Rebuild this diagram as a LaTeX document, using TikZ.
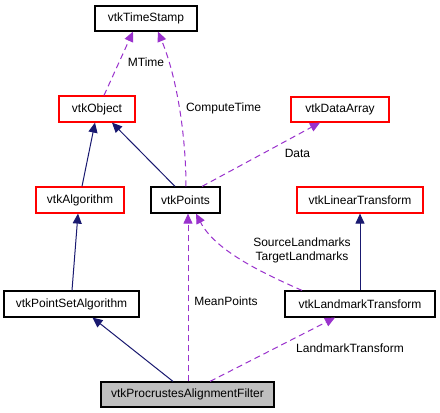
\documentclass[tikz,border=0pt]{standalone}
\usepackage{fontspec}
\setmainfont{Liberation Sans}
\usetikzlibrary{arrows.meta}
\definecolor{edgepurple}{HTML}{9A32CD}
\definecolor{edgenavy}{HTML}{191970}
\definecolor{boxred}{HTML}{FF0000}
\definecolor{boxgray}{HTML}{BFBFBF}
\tikzset{
  cls/.style={draw=black, line width=1.2pt, fill=white, inner sep=0pt, font=\fontsize{12}{14}\selectfont},
  redcls/.style={cls, draw=boxred},
  graycls/.style={cls, fill=boxgray},
  inherit/.style={draw=edgenavy, line width=1pt, -{Triangle[length=10pt,width=9pt]}, color=edgenavy},
  usage/.style={draw=edgepurple, line width=1pt, dash pattern=on 6pt off 4pt, -{Triangle[length=10pt,width=9pt]}, color=edgepurple},
  lbl/.style={font=\fontsize{12}{14}\selectfont, inner sep=0pt, align=center}
}
\begin{document}
\begin{tikzpicture}[x=1pt,y=-1pt]
\useasboundingbox[fill=white] (0,0) rectangle (440,413);
% nodes
\node[cls, minimum width=102pt, minimum height=25pt] (ts) at (146,18.5) {vtkTimeStamp};
\node[redcls, minimum width=76pt, minimum height=26pt] (obj) at (97,109) {vtkObject};
\node[redcls, minimum width=98pt, minimum height=25pt] (da) at (340,109.5) {vtkDataArray};
\node[redcls, minimum width=88pt, minimum height=26pt] (alg) at (80,200) {vtkAlgorithm};
\node[cls, minimum width=69pt, minimum height=26pt] (pts) at (185.5,200) {vtkPoints};
\node[redcls, minimum width=126pt, minimum height=26pt] (lt) at (360,200) {vtkLinearTransform};
\node[cls, minimum width=135pt, minimum height=26pt] (psa) at (71.5,304) {vtkPointSetAlgorithm};
\node[cls, minimum width=150pt, minimum height=26pt] (lm) at (360,304) {vtkLandmarkTransform};
\node[graycls, minimum width=173pt, minimum height=25pt] (pf) at (187.5,394.5) {vtkProcrustesAlignmentFilter};
% inheritance edges
\draw[inherit] ([xshift=2pt]alg.north) -- ([xshift=-2pt]obj.south);
\draw[inherit] ([xshift=-10.5pt]pts.north) -- ([xshift=15pt]obj.south);
\draw[inherit] ([xshift=0.5pt]psa.north) -- ([xshift=-2pt]alg.south);
\draw[inherit] ([xshift=-14.5pt]pf.north) -- ([xshift=21pt]psa.south);
\draw[inherit] (lm.north) -- (lt.south);
% usage edges
\draw[usage] ([xshift=7pt]obj.north) -- ([xshift=-13pt]ts.south);
\node[lbl] (lmtime) at (146,62) {MTime};
\draw[usage] ([xshift=0.5pt]pts.north) .. controls (186,140) and (178,80) .. ([xshift=12pt]ts.south);
\node[lbl] (lct) at (223.5,108) {ComputeTime};
\draw[usage] ([xshift=16.5pt]pts.north) -- ([xshift=-20pt]da.south);
\node[lbl] (ldata) at (297.5,153) {Data};
\draw[usage] ([xshift=0.5pt]pf.north) -- ([xshift=2.5pt]pts.south);
\node[lbl] (lmean) at (226,301) {MeanPoints};
\draw[usage] ([xshift=-58pt]lm.north) .. controls (260,272) and (215,250) .. ([xshift=10.5pt]pts.south);
\node[lbl] (lsrc) at (302,250.5) {SourceLandmarks\\TargetLandmarks};
\draw[usage] ([xshift=22.5pt]pf.north) -- ([xshift=-25pt]lm.south);
\node[lbl] (llt) at (350,348) {LandmarkTransform};
\end{tikzpicture}
\end{document}
